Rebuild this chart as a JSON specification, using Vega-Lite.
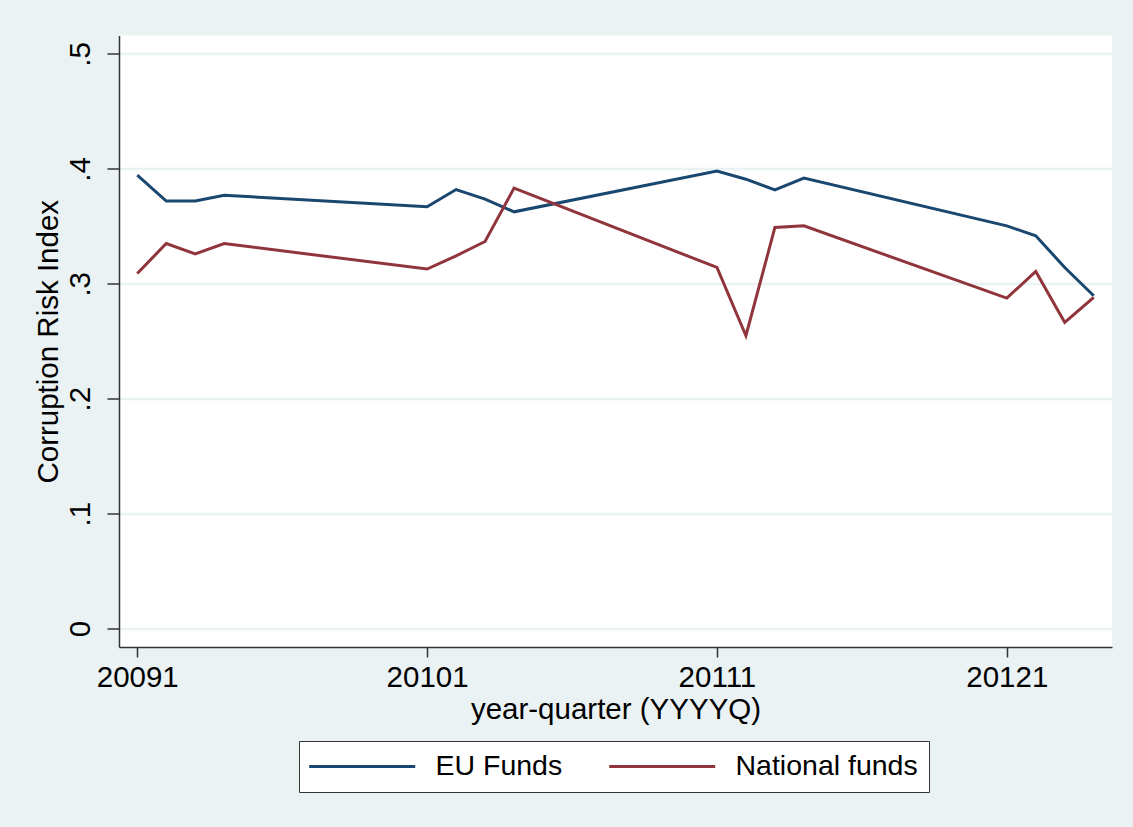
{
  "$schema": "https://vega.github.io/schema/vega-lite/v6.json",
  "width": 993,
  "height": 611.5,
  "autosize": {"type": "none"},
  "padding": {"left": 119, "top": 35.5, "right": 21, "bottom": 180},
  "background": "#eaf2f3",
  "view": {"fill": "white", "stroke": null},
  "config": {
    "font": "Liberation Sans",
    "axis": {
      "labelColor": "black",
      "titleColor": "black",
      "labelFont": "Liberation Sans",
      "titleFont": "Liberation Sans",
      "labelFontSize": 29.5,
      "titleFontSize": 29.5,
      "titleFontWeight": "normal",
      "domainColor": "#333333",
      "domainWidth": 1.5,
      "tickColor": "#333333",
      "tickWidth": 1.5
    },
    "legend": {
      "labelFont": "Liberation Sans",
      "labelColor": "black"
    }
  },
  "data": {
    "values": [
      {"yq": 20091, "source": "EU Funds", "cri": 0.3945},
      {"yq": 20092, "source": "EU Funds", "cri": 0.372},
      {"yq": 20093, "source": "EU Funds", "cri": 0.372},
      {"yq": 20094, "source": "EU Funds", "cri": 0.377},
      {"yq": 20101, "source": "EU Funds", "cri": 0.367},
      {"yq": 20102, "source": "EU Funds", "cri": 0.382},
      {"yq": 20103, "source": "EU Funds", "cri": 0.3736},
      {"yq": 20104, "source": "EU Funds", "cri": 0.3626},
      {"yq": 20111, "source": "EU Funds", "cri": 0.398},
      {"yq": 20112, "source": "EU Funds", "cri": 0.391},
      {"yq": 20113, "source": "EU Funds", "cri": 0.3817},
      {"yq": 20114, "source": "EU Funds", "cri": 0.3919},
      {"yq": 20121, "source": "EU Funds", "cri": 0.3504},
      {"yq": 20122, "source": "EU Funds", "cri": 0.3417},
      {"yq": 20123, "source": "EU Funds", "cri": 0.3142},
      {"yq": 20124, "source": "EU Funds", "cri": 0.2896},
      {"yq": 20091, "source": "National funds", "cri": 0.309},
      {"yq": 20092, "source": "National funds", "cri": 0.335},
      {"yq": 20093, "source": "National funds", "cri": 0.326},
      {"yq": 20094, "source": "National funds", "cri": 0.335},
      {"yq": 20101, "source": "National funds", "cri": 0.3128},
      {"yq": 20102, "source": "National funds", "cri": 0.3243},
      {"yq": 20103, "source": "National funds", "cri": 0.3368},
      {"yq": 20104, "source": "National funds", "cri": 0.3832},
      {"yq": 20111, "source": "National funds", "cri": 0.3142},
      {"yq": 20112, "source": "National funds", "cri": 0.2548},
      {"yq": 20113, "source": "National funds", "cri": 0.349},
      {"yq": 20114, "source": "National funds", "cri": 0.3504},
      {"yq": 20121, "source": "National funds", "cri": 0.2875},
      {"yq": 20122, "source": "National funds", "cri": 0.3107},
      {"yq": 20123, "source": "National funds", "cri": 0.2664},
      {"yq": 20124, "source": "National funds", "cri": 0.2881}
    ]
  },
  "mark": {"type": "line", "strokeWidth": 3},
  "encoding": {
    "x": {
      "field": "yq",
      "type": "quantitative",
      "scale": {"domain": [20090.37, 20124.63], "nice": false, "zero": false},
      "axis": {
        "title": "year-quarter (YYYYQ)",
        "values": [20091, 20101, 20111, 20121],
        "format": "d",
        "grid": false,
        "tickSize": 10,
        "labelPadding": 6,
        "titlePadding": 4,
        "labelFlush": false
      }
    },
    "y": {
      "field": "cri",
      "type": "quantitative",
      "scale": {"domain": [-0.016, 0.516], "nice": false, "zero": false},
      "axis": {
        "title": "Corruption Risk Index",
        "values": [0, 0.1, 0.2, 0.3, 0.4, 0.5],
        "labelExpr": "datum.value == 0 ? '0' : replace(format(datum.value, '.1f'), '0.', '.')",
        "labelAngle": -90,
        "labelAlign": "center",
        "labelBaseline": "bottom",
        "labelPadding": 12,
        "tickSize": 12,
        "grid": true,
        "gridColor": "#eaf2f3",
        "gridWidth": 2.5,
        "titlePadding": 2,
        "labelFlush": false
      }
    },
    "color": {
      "field": "source",
      "type": "nominal",
      "scale": {"domain": ["EU Funds", "National funds"], "range": ["#1a476f", "#90353b"]},
      "legend": {
        "title": null,
        "orient": "none",
        "legendX": 180,
        "legendY": 705.5,
        "direction": "horizontal",
        "symbolType": "M-1.7,0H10.3",
        "symbolSize": 312,
        "symbolStrokeWidth": 3,
        "labelFontSize": 28.5,
        "labelLimit": 400,
        "labelOffset": 97,
        "columnPadding": 40,
        "padding": 11,
        "strokeColor": "#333333",
        "fillColor": "white"
      }
    }
  }
}
